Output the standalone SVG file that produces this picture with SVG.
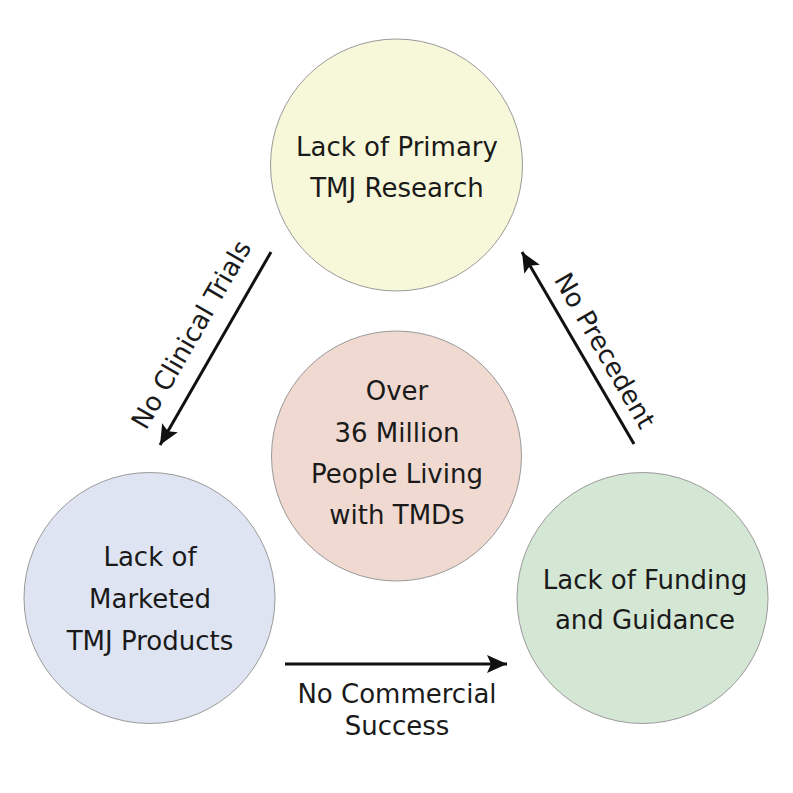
<svg xmlns="http://www.w3.org/2000/svg" width="793" height="793" viewBox="0 0 793 793">
<style>
.node circle{stroke:#9a9a9a;stroke-width:1}
text{font-family:"DejaVu Sans","Liberation Sans",sans-serif;font-size:26px;fill:#1a1a1a;text-anchor:middle}
.conn line{stroke:#111;stroke-width:3;marker-end:url(#ah)}
</style>
<defs>
<marker id="ah" viewBox="0 0 20 18" refX="20" refY="9" markerWidth="20" markerHeight="18" markerUnits="userSpaceOnUse" orient="auto">
<path d="M0,0 L20,9 L0,18 L4,9 z" fill="#111"/>
</marker>
</defs>
<rect width="793" height="793" fill="#fff"/>
<g id="research" class="node">
<circle cx="396.5" cy="165" r="126" fill="#f6f8d9"/>
<text x="397" y="156">Lack of Primary</text>
<text x="397" y="197">TMJ Research</text>
</g>
<g id="people" class="node">
<circle cx="396.5" cy="456" r="125" fill="#efd9d0"/>
<text x="397" y="400">Over</text>
<text x="397" y="442">36 Million</text>
<text x="397" y="483">People Living</text>
<text x="397" y="524">with TMDs</text>
</g>
<g id="products" class="node">
<circle cx="149.5" cy="598" r="125.5" fill="#dfe4f2"/>
<text x="150" y="566">Lack of</text>
<text x="150" y="608">Marketed</text>
<text x="150" y="650">TMJ Products</text>
</g>
<g id="funding" class="node">
<circle cx="642.5" cy="598" r="125.5" fill="#d4e6d4"/>
<text x="645" y="589">Lack of Funding</text>
<text x="645" y="629">and Guidance</text>
</g>
<g id="connectors" class="conn">
<line x1="271" y1="252" x2="160" y2="445"/>
<line x1="285" y1="664" x2="507" y2="664"/>
<line x1="634" y1="444" x2="522" y2="252"/>
<text transform="translate(199,339) rotate(-60)">No Clinical Trials</text>
<text x="397" y="703">No Commercial</text>
<text x="397" y="735">Success</text>
<text transform="translate(597,355) rotate(60)">No Precedent</text>
</g>
</svg>
